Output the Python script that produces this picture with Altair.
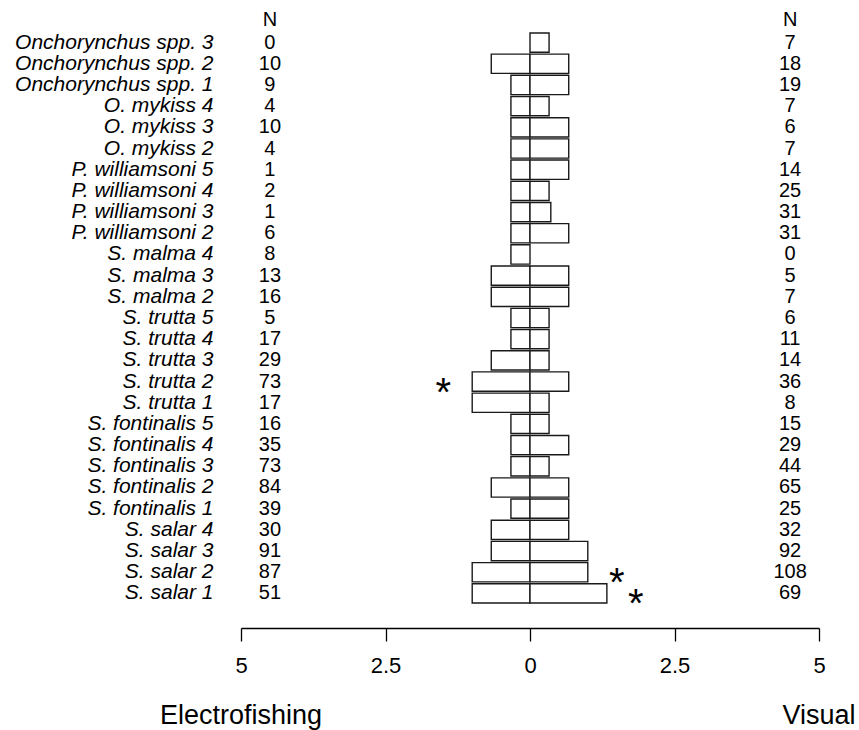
import altair as alt
import pandas as pd

species = [
    "Onchorynchus spp. 3", "Onchorynchus spp. 2", "Onchorynchus spp. 1",
    "O. mykiss 4", "O. mykiss 3", "O. mykiss 2",
    "P. williamsoni 5", "P. williamsoni 4", "P. williamsoni 3", "P. williamsoni 2",
    "S. malma 4", "S. malma 3", "S. malma 2",
    "S. trutta 5", "S. trutta 4", "S. trutta 3", "S. trutta 2", "S. trutta 1",
    "S. fontinalis 5", "S. fontinalis 4", "S. fontinalis 3", "S. fontinalis 2", "S. fontinalis 1",
    "S. salar 4", "S. salar 3", "S. salar 2", "S. salar 1",
]
electro = [0, 0.67, 0.33, 0.33, 0.33, 0.33, 0.33, 0.33, 0.33, 0.33,
           0.33, 0.67, 0.67, 0.33, 0.33, 0.67, 1.0, 1.0,
           0.33, 0.33, 0.33, 0.67, 0.33, 0.67, 0.67, 1.0, 1.0]
visual = [0.33, 0.67, 0.67, 0.33, 0.67, 0.67, 0.67, 0.33, 0.36, 0.67,
          0, 0.67, 0.67, 0.33, 0.33, 0.33, 0.67, 0.33,
          0.33, 0.67, 0.33, 0.67, 0.67, 0.67, 1.0, 1.0, 1.33]
n_electro = [0, 10, 9, 4, 10, 4, 1, 2, 1, 6, 8, 13, 16, 5, 17, 29, 73, 17,
             16, 35, 73, 84, 39, 30, 91, 87, 51]
n_visual = [7, 18, 19, 7, 6, 7, 14, 25, 31, 31, 0, 5, 7, 6, 11, 14, 36, 8,
            15, 29, 44, 65, 25, 32, 92, 108, 69]
star_electro = ["S. trutta 2"]
star_visual = ["S. salar 2", "S. salar 1"]
x_ticks = [-5, -2.5, 0, 2.5, 5]
side_titles = ["Electrofishing", "Visual"]
side_title_x = [-5, 5]
n_col_x = [-4.5, 4.5]

FONT = "Liberation Sans"

rows = []
for s, e, v in zip(species, electro, visual):
    if e > 0:
        rows.append({"species": s, "x0": 0.0, "x1": -e})
    if v > 0:
        rows.append({"species": s, "x0": 0.0, "x1": v})
bars_df = pd.DataFrame(rows)

counts_df = pd.DataFrame({
    "species": species * 2,
    "n": n_electro + n_visual,
    "x": [n_col_x[0]] * len(species) + [n_col_x[1]] * len(species),
})

stars = []
for s, e in zip(species, electro):
    if s in star_electro:
        stars.append({"species": s, "x": -(e + 0.5)})
for s, v in zip(species, visual):
    if s in star_visual:
        stars.append({"species": s, "x": v + 0.5})
stars_df = pd.DataFrame(stars)

head_df = pd.DataFrame({"x": n_col_x, "t": ["N", "N"]})
titles_df = pd.DataFrame({"x": side_title_x, "t": side_titles})

xscale = alt.Scale(domain=[-5, 5], nice=False, zero=False)
yscale = alt.Scale(domain=species, paddingInner=0.09, paddingOuter=0.045)

bars = alt.Chart(bars_df).mark_bar(
    fill="white", stroke="#1a1a1a", strokeWidth=1.4
).encode(
    x=alt.X("x0:Q", scale=xscale, axis=alt.Axis(
        values=x_ticks, labelExpr="abs(datum.value)", title=None, grid=False,
        orient="bottom", offset=24, domainColor="black", domainWidth=1.3,
        tickColor="black", tickWidth=1.3, tickSize=13, labelFont=FONT,
        labelFontSize=22, labelColor="black", labelPadding=14, labelFlush=False,
    )),
    x2="x1:Q",
    y=alt.Y("species:N", scale=yscale, sort=species, axis=alt.Axis(
        title=None, domain=False, ticks=False, labelFont=FONT,
        labelFontStyle="italic", labelFontSize=21, labelColor="black",
        labelPadding=28, labelLimit=0,
    )),
)

counts = alt.Chart(counts_df).mark_text(
    font=FONT, fontSize=20, align="center", baseline="middle", color="black"
).encode(
    x=alt.X("x:Q", scale=xscale),
    y=alt.Y("species:N", scale=yscale, sort=species),
    text="n:Q",
)

star_marks = alt.Chart(stars_df).mark_text(
    text="*", font=FONT, fontSize=40, align="center", baseline="alphabetic",
    dy=24, color="black"
).encode(
    x=alt.X("x:Q", scale=xscale),
    y=alt.Y("species:N", scale=yscale, sort=species),
)

heads = alt.Chart(head_df).mark_text(
    font=FONT, fontSize=20, align="center", baseline="alphabetic", color="black"
).encode(
    x=alt.X("x:Q", scale=xscale),
    y=alt.value(-6),
    text="t:N",
)

titles = alt.Chart(titles_df).mark_text(
    font=FONT, fontSize=27, align="center", baseline="alphabetic", color="black"
).encode(
    x=alt.X("x:Q", scale=xscale),
    y=alt.value(692),
    text="t:N",
)

chart = alt.layer(bars, counts, star_marks, heads, titles).properties(
    width=578,
    height=572,
    autosize=alt.AutoSizeParams(type="none"),
    padding={"left": 241, "top": 32, "right": 40, "bottom": 126},
    background="white",
).configure_view(stroke=None)

chart.save("out.html", embed_options={"renderer": "svg", "actions": False})
